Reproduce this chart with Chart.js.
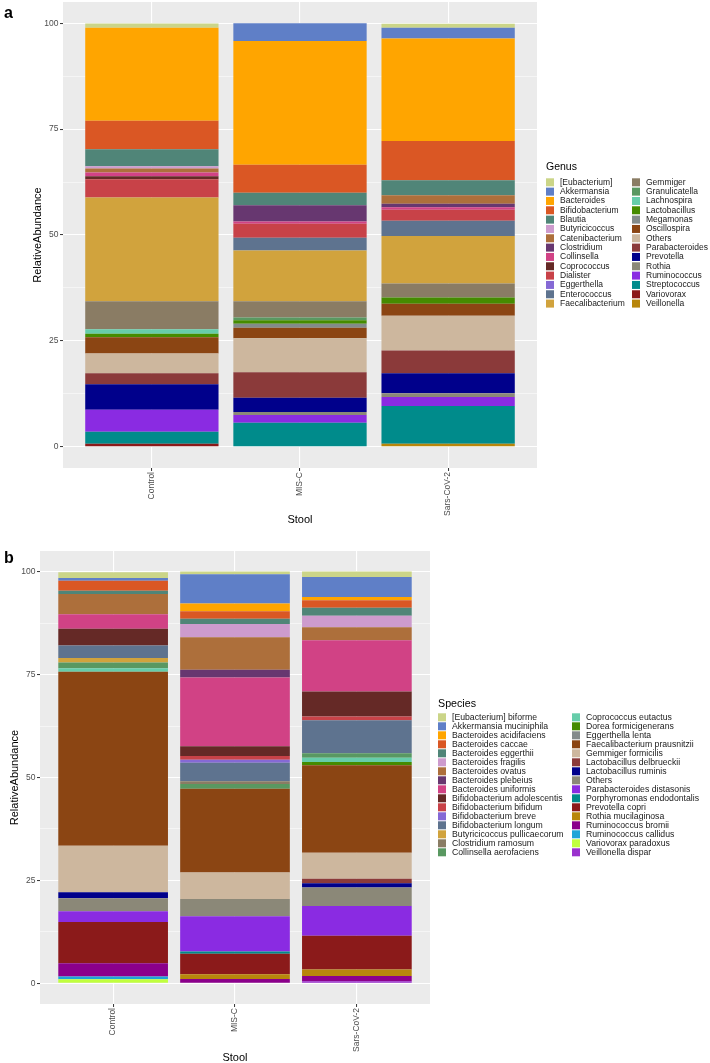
<!DOCTYPE html>
<html>
<head>
<meta charset="utf-8">
<script src="https://cdn.jsdelivr.net/npm/chart.js"></script>
<style>
  body { margin: 0; background: #fff; }
  canvas { display: block; }
</style>
</head>
<body>
<canvas id="genusChart" width="710" height="535"></canvas>
<canvas id="speciesChart" width="710" height="528"></canvas>
<script>
// groups on the x axis and y tick labels
var groups = ['Control', 'MIS-C', 'Sars-CoV-2'];
var yTicks = [0, 12.5, 25, 37.5, 50, 62.5, 75, 87.5, 100];

// panel a - genus
var genusNames = ['[Eubacterium]', 'Akkermansia', 'Bacteroides', 'Bifidobacterium', 'Blautia',
  'Butyricicoccus', 'Catenibacterium', 'Clostridium', 'Collinsella', 'Coprococcus', 'Dialister',
  'Eggerthella', 'Enterococcus', 'Faecalibacterium', 'Gemmiger', 'Granulicatella', 'Lachnospira',
  'Lactobacillus', 'Megamonas', 'Oscillospira', 'Others', 'Parabacteroides', 'Prevotella', 'Rothia',
  'Ruminococcus', 'Streptococcus', 'Variovorax', 'Veillonella'];
var genusControl = [1.0, 0, 22.0, 6.7, 4.0, 0.55, 0.95, 0, 0.9, 0.7, 4.3, 0, 0, 24.5, 6.6, 0, 1.05,
  0.85, 0, 3.8, 4.7, 2.6, 6.0, 0, 5.2, 2.8, 0.75, 0];
var genusMISC = [0, 4.2, 29.2, 6.6, 3.0, 0, 0, 3.8, 0.55, 0, 3.3, 0, 3.0, 12.0, 3.8, 0.65, 0,
  0.85, 0.95, 2.5, 8.0, 6.0, 3.4, 0.7, 1.8, 5.7, 0, 0];
var genusSars = [0.95, 2.5, 24.2, 9.3, 3.5, 0, 2.0, 0.85, 0.6, 0, 2.6, 0, 3.6, 11.2, 3.3, 0, 0,
  1.5, 0, 2.8, 8.2, 5.4, 4.7, 0.9, 2.1, 8.9, 0, 0.75];

// panel b - species
var speciesNames = ['[Eubacterium] biforme', 'Akkermansia muciniphila', 'Bacteroides acidifaciens',
  'Bacteroides caccae', 'Bacteroides eggerthii', 'Bacteroides fragilis', 'Bacteroides ovatus',
  'Bacteroides plebeius', 'Bacteroides uniformis', 'Bifidobacterium adolescentis',
  'Bifidobacterium bifidum', 'Bifidobacterium breve', 'Bifidobacterium longum',
  'Butyricicoccus pullicaecorum', 'Clostridium ramosum', 'Collinsella aerofaciens',
  'Coprococcus eutactus', 'Dorea formicigenerans', 'Eggerthella lenta', 'Faecalibacterium prausnitzii',
  'Gemmiger formicilis', 'Lactobacillus delbrueckii', 'Lactobacillus ruminis', 'Others',
  'Parabacteroides distasonis', 'Porphyromonas endodontalis', 'Prevotella copri',
  'Rothia mucilaginosa', 'Ruminococcus bromii', 'Ruminococcus callidus', 'Variovorax paradoxus',
  'Veillonella dispar'];
var speciesControl = [1.4, 0.7, 0, 2.4, 0.8, 0, 4.9, 0, 3.5, 4.1, 0, 0, 3.05, 1.05, 0, 1.4, 0.9,
  0, 0, 42.2, 11.3, 0, 1.45, 3.2, 2.6, 0, 10.0, 0, 3.2, 0.7, 1.0, 0];
var speciesMISC = [0.7, 7.1, 1.9, 1.8, 1.3, 3.2, 7.9, 1.85, 16.7, 2.35, 0.95, 0.7, 4.5, 0, 0.65,
  1.2, 0, 0, 0, 20.3, 6.45, 0, 0, 4.2, 8.55, 0.55, 5.0, 1.15, 1.05, 0, 0, 0];
var speciesSars = [1.3, 4.85, 0.8, 1.85, 1.95, 2.75, 3.2, 0, 12.4, 6.1, 0.9, 0, 8.0, 0, 0, 1.1,
  1.05, 0.75, 0, 21.3, 6.3, 1.05, 1.05, 4.5, 7.25, 0, 8.15, 1.6, 1.3, 0, 0, 0.5];

// colour palette, in legend order
var palette = ['#CBD588', '#5F7FC7', '#FFA500', '#DA5724', '#508578', '#CD9BCD', '#AD6F3B',
  '#673770', '#D14285', '#652926', '#C84248', '#8569D5', '#5E738F', '#D1A33D', '#8A7C64',
  '#599861', '#66CDAA', '#458B00', '#838B8B', '#8B4513', '#CDB79E', '#8B3A3A', '#00008B',
  '#8B8878', '#8A2BE2', '#008B8B', '#8B1A1A', '#B8860B', '#8B008B', '#1EA5D8', '#C0FF3E',
  '#9A32CD'];

var FONT = '"Liberation Sans", Arial, Helvetica, sans-serif';
Chart.defaults.font.family = FONT;

function sideLegend(title, names, o) {
  return {
    id: 'sideLegend',
    afterDraw: function (chart) {
      var ctx = chart.ctx;
      var half = Math.ceil(names.length / 2);
      ctx.save();
      ctx.textBaseline = 'middle';
      ctx.textAlign = 'left';
      ctx.fillStyle = '#000';
      ctx.font = o.titleSize + 'px ' + FONT;
      ctx.fillText(title, o.x, o.titleY);
      ctx.font = o.size + 'px ' + FONT;
      names.forEach(function (name, i) {
        var col = i < half ? 0 : 1;
        var row = col ? i - half : i;
        var x = o.x + col * o.colGap;
        var y = o.rowY + row * o.rowH;
        ctx.fillStyle = palette[i];
        ctx.fillRect(x, y - o.key / 2, o.key, o.key);
        ctx.fillStyle = '#1a1a1a';
        ctx.fillText(name, x + o.textOff, y);
      });
      // panel letter
      ctx.textBaseline = 'alphabetic';
      ctx.fillStyle = '#000';
      ctx.font = 'bold 16px ' + FONT;
      ctx.fillText(o.letter, 4, o.letterY);
      ctx.restore();
    }
  };
}

var panelBg = {
  id: 'panelBg',
  beforeDraw: function (chart) {
    var a = chart.chartArea;
    chart.ctx.save();
    chart.ctx.fillStyle = '#EBEBEB';
    chart.ctx.fillRect(a.left, a.top, a.right - a.left, a.bottom - a.top);
    chart.ctx.restore();
  }
};

function makeChart(id, names, series, o) {
  var datasets = [];
  // ggplot stacks the first level on top, so push in reverse
  for (var i = names.length - 1; i >= 0; i--) {
    datasets.push({
      label: names[i],
      data: series.map(function (arr, g) { return { x: g + 1, y: arr[i] }; }),
      backgroundColor: palette[i],
      borderWidth: 0,
      barPercentage: 0.9,
      categoryPercentage: 1
    });
  }
  return new Chart(document.getElementById(id), {
    type: 'bar',
    data: { datasets: datasets },
    options: {
      responsive: false,
      animation: false,
      events: [],
      layout: { padding: { top: o.top, right: o.right, left: 0, bottom: 0 } },
      plugins: { legend: { display: false }, tooltip: { enabled: false } },
      scales: {
        x: {
          type: 'linear',
          stacked: true,
          min: 0.4,
          max: 3.6,
          offset: false,
          afterBuildTicks: function (s) {
            s.ticks = [1, 2, 3].map(function (v) { return { value: v }; });
          },
          afterFit: function (s) { s.height = o.xH; s.paddingLeft = 0; s.paddingRight = 0; },
          border: { display: false },
          grid: { color: '#fff', lineWidth: 1.1, offset: false, tickLength: 3, tickColor: '#333', tickWidth: 1 },
          ticks: {
            autoSkip: false, minRotation: 90, maxRotation: 90, padding: 1,
            color: '#4D4D4D', font: { size: 8.5 },
            callback: function (v) { return groups[v - 1]; }
          },
          title: {
            display: true, text: 'Stool', color: '#000',
            font: { size: 11, lineHeight: o.xTitleLH }, padding: { top: 0, bottom: o.xTitlePad }
          }
        },
        y: {
          stacked: true,
          min: -5,
          max: 105,
          afterBuildTicks: function (s) {
            s.ticks = yTicks.map(function (v) { return { value: v }; });
          },
          afterFit: function (s) { s.width = o.yW; s.paddingTop = 0; s.paddingBottom = 0; },
          border: { display: false },
          grid: {
            color: '#fff',
            lineWidth: function (c) { return c.tick && c.tick.value % 25 === 0 ? 1.1 : 0.5; },
            tickLength: 3,
            tickWidth: 1,
            tickColor: function (c) { return c.tick && c.tick.value % 25 === 0 ? '#333' : 'rgba(0,0,0,0)'; }
          },
          ticks: {
            padding: 1.5, color: '#4D4D4D', font: { size: 8.5 },
            callback: function (v) { return v % 25 === 0 ? v : ''; }
          },
          title: {
            display: true, text: 'RelativeAbundance', color: '#000',
            font: { size: 11 }, padding: { top: o.yTitlePad, bottom: 0 }
          }
        }
      }
    },
    plugins: [panelBg, sideLegend(o.legendTitle, names, o.legend)]
  });
}

makeChart('genusChart', genusNames, [genusControl, genusMISC, genusSars], {
  top: 2, right: 173, xH: 67, yW: 63, xTitlePad: 8, xTitleLH: 1.2, yTitlePad: 31,
  legendTitle: 'Genus',
  legend: { x: 546, titleY: 167, rowY: 182.3, rowH: 9.33, colGap: 86, key: 8, textOff: 14,
    titleSize: 10.5, size: 8.5, letter: 'a', letterY: 18 }
});

makeChart('speciesChart', speciesNames, [speciesControl, speciesMISC, speciesSars], {
  top: 16, right: 280, xH: 59, yW: 40, xTitlePad: 0, xTitleLH: 1, yTitlePad: 8.4,
  legendTitle: 'Species',
  legend: { x: 438, titleY: 169, rowY: 182.3, rowH: 9.0, colGap: 134, key: 8, textOff: 14,
    titleSize: 10.7, size: 8.7, letter: 'b', letterY: 28 }
});
</script>
</body>
</html>
